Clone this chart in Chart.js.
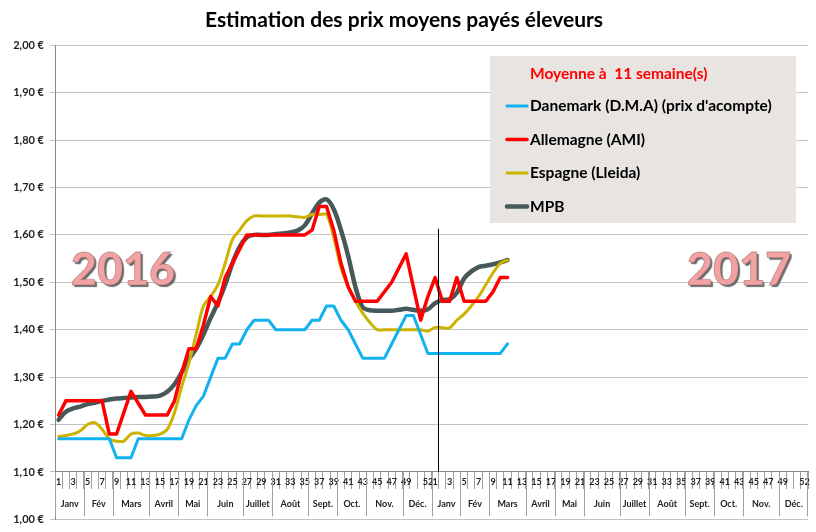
<!DOCTYPE html>
<html>
<head>
<meta charset="utf-8">
<script src="https://cdn.jsdelivr.net/npm/chart.js"></script>
<style>
body{margin:0;background:#fff;}
#contenitore{width:816px;height:532px;}
</style>
</head>
<body>
<div id="contenitore"><canvas id="grafico"></canvas></div>
<script>
var titolo = "Estimation des prix moyens payés éleveurs";
var legendaTitolo = "Moyenne à  11 semaine(s)";
var mesi = ['Janv', 'Fév', 'Mars', 'Avril', 'Mai', 'Juin', 'Juillet', 'Août', 'Sept.', 'Oct.', 'Nov.', 'Déc.'];
var settimaneMese = [4, 4, 5, 4, 4, 5, 4, 5, 4, 4, 5, 4];
var anni = ['2016', '2017'];

var danemark = [1.17,1.17,1.17,1.17,1.17,1.17,1.17,1.17,1.13,1.13,1.13,1.17,1.17,1.17,1.17,1.17,1.17,1.17,1.21,1.24,1.26,1.30,1.34,1.34,1.37,1.37,1.40,1.42,1.42,1.42,1.40,1.40,1.40,1.40,1.40,1.42,1.42,1.45,1.45,1.42,1.40,1.37,1.34,1.34,1.34,1.34,1.37,1.40,1.43,1.43,1.39,1.35,
    1.35,1.35,1.35,1.35,1.35,1.35,1.35,1.35,1.35,1.35,1.37];
var allemagne = [1.22,1.25,1.25,1.25,1.25,1.25,1.25,1.18,1.18,1.225,1.27,1.245,1.22,1.22,1.22,1.22,1.25,1.31,1.36,1.36,1.41,1.47,1.45,1.51,1.54,1.57,1.60,1.60,1.60,1.60,1.60,1.60,1.60,1.60,1.60,1.61,1.66,1.66,1.61,1.54,1.49,1.46,1.46,1.46,1.46,1.48,1.50,1.53,1.56,1.49,1.42,1.47,
    1.51,1.46,1.46,1.51,1.46,1.46,1.46,1.46,1.48,1.51,1.51];
var espagne = [1.175,1.177,1.18,1.187,1.20,1.204,1.19,1.17,1.165,1.165,1.18,1.182,1.177,1.177,1.18,1.19,1.225,1.28,1.33,1.39,1.45,1.47,1.495,1.54,1.59,1.61,1.63,1.64,1.64,1.64,1.64,1.64,1.64,1.638,1.637,1.643,1.643,1.643,1.595,1.53,1.49,1.46,1.435,1.415,1.40,1.40,1.40,1.40,1.40,1.40,1.40,1.397,
    1.405,1.404,1.404,1.42,1.433,1.45,1.47,1.495,1.52,1.54,1.547];
var mpb = [1.21,1.227,1.234,1.238,1.243,1.246,1.25,1.253,1.255,1.256,1.257,1.258,1.258,1.259,1.261,1.269,1.285,1.31,1.338,1.36,1.39,1.425,1.457,1.495,1.54,1.575,1.595,1.60,1.60,1.60,1.602,1.603,1.605,1.609,1.62,1.645,1.668,1.675,1.654,1.61,1.555,1.49,1.447,1.441,1.44,1.44,1.44,1.442,1.444,1.442,1.44,1.443,
    1.456,1.463,1.464,1.478,1.508,1.523,1.532,1.535,1.538,1.542,1.547];

var settimane = [];
for (var a = 0; a < anni.length; a++) {
    for (var s = 1; s <= 52; s++) settimane.push(s);
}

var font = 'Lato';

function etichettaSettimana(v, i) {
    var w = settimane[i];
    if ((w % 2 == 1 && w <= 49) || w == 52) return String(w);
    return '';
}

var decorazioni = {
    id: 'decorazioni',
    afterDraw: function (chart) {
        var ctx = chart.ctx;
        var x = chart.scales.x;
        var y = chart.scales.y;
        var passo = x.getPixelForValue(1) - x.getPixelForValue(0);
        var base = y.getPixelForValue(1.1);
        var fondo = y.getPixelForValue(1.0);
        ctx.save();

        // riga dei mesi
        ctx.strokeStyle = '#a0a0a0';
        ctx.lineWidth = 1;
        ctx.fillStyle = '#222';
        ctx.font = 'bold 9px ' + font;
        ctx.textAlign = 'center';
        ctx.textBaseline = 'middle';
        var inizio = 0;
        for (var a = 0; a < anni.length; a++) {
            for (var m = 0; m < mesi.length; m++) {
                var sx = Math.round(x.getPixelForValue(inizio) - passo / 2) + 0.5;
                var dx = x.getPixelForValue(inizio + settimaneMese[m] - 1) + passo / 2;
                ctx.beginPath();
                ctx.moveTo(sx, base);
                ctx.lineTo(sx, fondo - 3);
                ctx.stroke();
                ctx.fillText(mesi[m], (sx + dx) / 2, base + 32);
                inizio += settimaneMese[m];
            }
        }
        var ultimo = Math.round(x.getPixelForValue(inizio - 1) + passo / 2) - 0.5;
        ctx.beginPath();
        ctx.moveTo(ultimo, base);
        ctx.lineTo(ultimo, fondo - 3);
        ctx.stroke();

        // linea verticale inizio 2017
        var lx = Math.round(x.getPixelForValue(52) + passo * 0.35) + 0.5;
        ctx.strokeStyle = '#000';
        ctx.beginPath();
        ctx.moveTo(lx, y.getPixelForValue(1.613));
        ctx.lineTo(lx, base);
        ctx.stroke();

        // anni
        ctx.font = '900 45px ' + font;
        ctx.textBaseline = 'alphabetic';
        var posAnni = [[123, 285], [739, 285]];
        for (var i = 0; i < anni.length; i++) {
            ctx.save();
            ctx.shadowColor = 'rgba(90,90,90,0.9)';
            ctx.shadowOffsetX = 2;
            ctx.shadowOffsetY = 2;
            ctx.shadowBlur = 1;
            ctx.fillStyle = '#f2a2a2';
            ctx.fillText(anni[i], posAnni[i][0], posAnni[i][1]);
            ctx.restore();
            ctx.strokeStyle = 'rgba(150,110,110,0.6)';
            ctx.lineWidth = 0.8;
            ctx.strokeText(anni[i], posAnni[i][0], posAnni[i][1]);
        }

        // legenda
        ctx.fillStyle = '#e7e4e1';
        ctx.fillRect(490, 56, 306, 167);
        ctx.textAlign = 'left';
        ctx.textBaseline = 'middle';
        ctx.font = 'bold 15.5px ' + font;
        ctx.fillStyle = '#ff0000';
        ctx.fillText(legendaTitolo, 530, 74);
        var dati = chart.data.datasets;
        for (var d = 0; d < dati.length; d++) {
            var ly = 106 + d * 33.5;
            ctx.strokeStyle = dati[d].borderColor;
            ctx.lineWidth = dati[d].borderWidth;
            ctx.lineCap = 'round';
            ctx.beginPath();
            ctx.moveTo(507, ly);
            ctx.lineTo(527, ly);
            ctx.stroke();
            ctx.fillStyle = '#000';
            ctx.fillText(dati[d].label, 530, ly);
        }
        ctx.restore();
    }
};

var ctx = document.getElementById('grafico');
var grafico = new Chart(ctx, {
    type: 'line',
    data: {
        labels: settimane,
        datasets: [{
            label: 'Danemark (D.M.A) (prix d\'acompte)',
            data: danemark,
            borderColor: '#12b2ef',
            borderWidth: 3,
            tension: 0
        }, {
            label: 'Allemagne (AMI)',
            data: allemagne,
            borderColor: '#ff0000',
            borderWidth: 3.5,
            tension: 0
        }, {
            label: 'Espagne (Lleida)',
            data: espagne,
            borderColor: '#cbb300',
            borderWidth: 3,
            tension: 0.3
        }, {
            label: 'MPB',
            data: mpb,
            borderColor: '#475858',
            borderWidth: 4.5,
            tension: 0.3
        }]
    },
    options: {
        responsive: true,
        maintainAspectRatio: false,
        animation: false,
        layout: {padding: {left: 0, right: 8, bottom: 6}},
        elements: {point: {radius: 0}, line: {borderJoinStyle: 'round', borderCapStyle: 'round'}},
        scales: {
            x: {
                position: {y: 1.1},
                offset: true,
                grid: {drawOnChartArea: false, drawTicks: true, tickLength: 17, offset: true, color: '#a0a0a0'},
                border: {display: true, color: '#888'},
                ticks: {
                    autoSkip: false, maxRotation: 0, minRotation: 0, padding: -12,
                    color: '#222', font: {family: font, size: 9, weight: 'bold'},
                    callback: etichettaSettimana
                }
            },
            y: {
                min: 1.0,
                max: 2.0,
                afterFit: function (s) { s.width = 55; },
                grid: {color: '#c4c4c4', tickLength: 5},
                border: {display: true, color: '#888'},
                ticks: {
                    stepSize: 0.1, padding: 6, color: '#222',
                    font: {family: font, size: 11, weight: 'bold'},
                    callback: function (v) { return v.toFixed(2).replace('.', ',') + ' €'; }
                }
            }
        },
        plugins: {
            legend: {display: false},
            tooltip: {enabled: false},
            title: {
                display: true, text: titolo, color: '#000',
                font: {family: font, size: 21, weight: 'bold'},
                padding: {top: 8, bottom: 12}
            }
        }
    },
    plugins: [decorazioni]
});
</script>
</body>
</html>
